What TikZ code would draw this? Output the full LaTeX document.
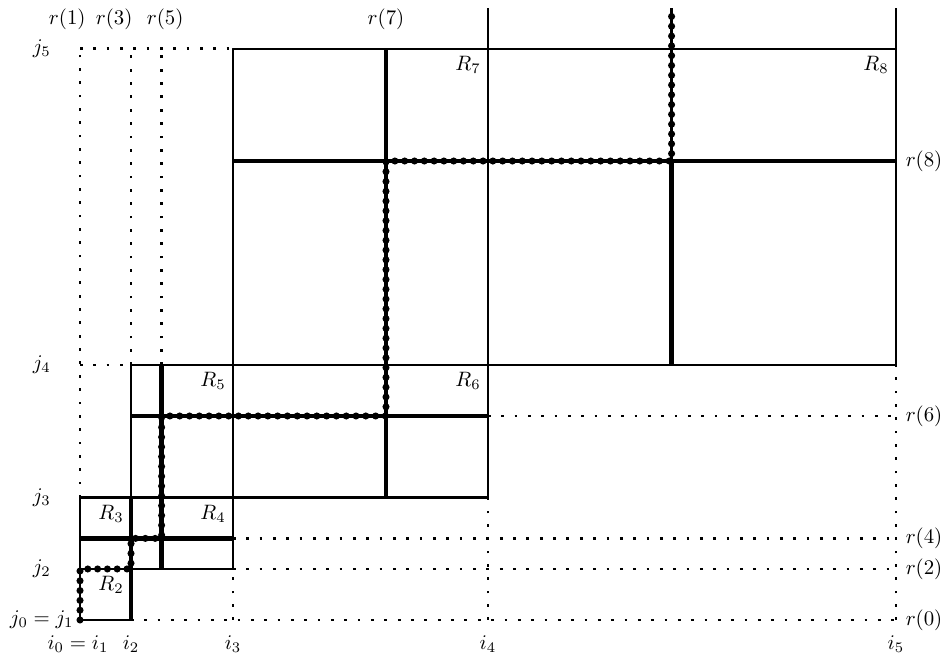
\documentclass[tikz,border=0pt]{standalone}
\usepackage{amsmath,amssymb}
\usepackage{xcolor}
\usepackage{tikz}
\usetikzlibrary{calc}

\begin{document}
\begin{tikzpicture}[scale=0.86,line join=round,
  bdry/.style={line width=1.2pt},
  cutln/.style={line width=2.3pt},
  guide/.style={line width=1.3pt,dash pattern=on 1.3pt off 5.1pt},
  walkdots/.style={line width=3.4pt,line cap=round,dash pattern=on 0pt off 4.7pt},
  rlab/.style={anchor=north east}]
  \useasboundingbox (-1.569,-0.745) rectangle (16.961,12.157);
  \coordinate (W0) at (0.000,0.000);
  \coordinate (W1) at (0.000,1.000);
  \coordinate (W2) at (1.000,1.000);
  \coordinate (W3) at (1.000,1.600);
  \coordinate (W4) at (1.600,1.600);
  \coordinate (W5) at (1.600,4.000);
  \coordinate (W6) at (6.000,4.000);
  \coordinate (W7) at (6.000,9.000);
  \coordinate (W8) at (11.600,9.000);
  \coordinate (W9) at (11.600,12.000);
  % dotted guide lines
  \draw[guide] (0.000,11.200) -- (3.000,11.200);
  \draw[guide] (0.000,2.400) -- (0.000,11.200);
  \draw[guide] (1.000,5.000) -- (1.000,11.200);
  \draw[guide] (1.600,5.000) -- (1.600,11.200);
  \draw[guide] (0.000,5.000) -- (1.000,5.000);
  \draw[guide] (8.000,4.000) -- (16.000,4.000);
  \draw[guide] (8.000,0.000) -- (8.000,2.400);
  \draw[guide] (16.000,0.000) -- (16.000,5.000);
  \draw[guide] (3.000,1.600) -- (16.000,1.600);
  \draw[guide] (3.000,1.000) -- (16.000,1.000);
  \draw[guide] (1.000,0.000) -- (16.000,0.000);
  \draw[guide] (3.000,0.000) -- (3.000,1.000);
  % rectangles
  \draw[bdry] (0.000,0.000) rectangle (1.000,1.000);
  \draw[bdry] (0.000,0.000) rectangle (1.000,2.400);
  \draw[bdry] (0.000,1.000) rectangle (3.000,2.400);
  \draw[bdry] (1.000,1.000) rectangle (3.000,5.000);
  \draw[bdry] (1.000,2.400) rectangle (8.000,5.000);
  \draw[bdry] (3.000,2.400) rectangle (8.000,11.200);
  \draw[bdry] (3.000,5.000) rectangle (16.000,11.200);
  \draw[bdry] (8.000,11.200) -- (8.000,12.000);
  \draw[bdry] (16.000,11.200) -- (16.000,12.000);
  % cuts
  \draw[cutln] (1.000,0.000) -- (1.000,2.400);
  \draw[cutln] (0.000,1.600) -- (3.000,1.600);
  \draw[cutln] (1.600,1.000) -- (1.600,5.000);
  \draw[cutln] (1.000,4.000) -- (8.000,4.000);
  \draw[cutln] (6.000,2.400) -- (6.000,11.200);
  \draw[cutln] (3.000,9.000) -- (16.000,9.000);
  \draw[cutln] (11.600,5.000) -- (11.600,9.000);
  % walk
  \draw[bdry] (W0) -- (W1) -- (W2) -- (W3) -- (W4) -- (W5) -- (W6) -- (W7) -- (W8) -- (W9);
  \draw[walkdots] (W0) -- (W1) -- (W2) -- (W3) -- (W4) -- (W5) -- (W6) -- (W7) -- (W8) -- (W9);
  % rectangle names
  \node[rlab] (R2) at (1.000,1.000) {$R_2$};
  \node[rlab] (R3) at (1.000,2.400) {$R_3$};
  \node[rlab] (R4) at (3.000,2.400) {$R_4$};
  \node[rlab] (R5) at (3.000,5.000) {$R_5$};
  \node[rlab] (R6) at (8.000,5.000) {$R_6$};
  \node[rlab] (R7) at (8.000,11.200) {$R_7$};
  \node[rlab] (R8) at (16.000,11.200) {$R_8$};
  % cut names
  \node (t1) at (-0.250,11.780) {$r(1)$};
  \node (t3) at (0.670,11.780) {$r(3)$};
  \node (t5) at (1.670,11.780) {$r(5)$};
  \node (t7) at (6.000,11.780) {$r(7)$};
  \node (t8) at (16.550,9.000) {$r(8)$};
  \node (t6) at (16.550,4.000) {$r(6)$};
  \node (t4) at (16.550,1.600) {$r(4)$};
  \node (t2) at (16.550,1.000) {$r(2)$};
  \node (t0) at (16.550,0.000) {$r(0)$};
  % indices
  \node (j5) at (-0.750,11.200) {$j_5$};
  \node (j4) at (-0.750,5.000) {$j_4$};
  \node (j3) at (-0.750,2.400) {$j_3$};
  \node (j2) at (-0.750,1.000) {$j_2$};
  \node (j0) at (-0.750,0.000) {$j_0=j_1$};
  \node (i0) at (-0.040,-0.470) {$i_0=i_1$};
  \node (i2) at (1.000,-0.470) {$i_2$};
  \node (i3) at (3.000,-0.470) {$i_3$};
  \node (i4) at (8.000,-0.470) {$i_4$};
  \node (i5) at (16.000,-0.470) {$i_5$};
\end{tikzpicture}
\end{document}
